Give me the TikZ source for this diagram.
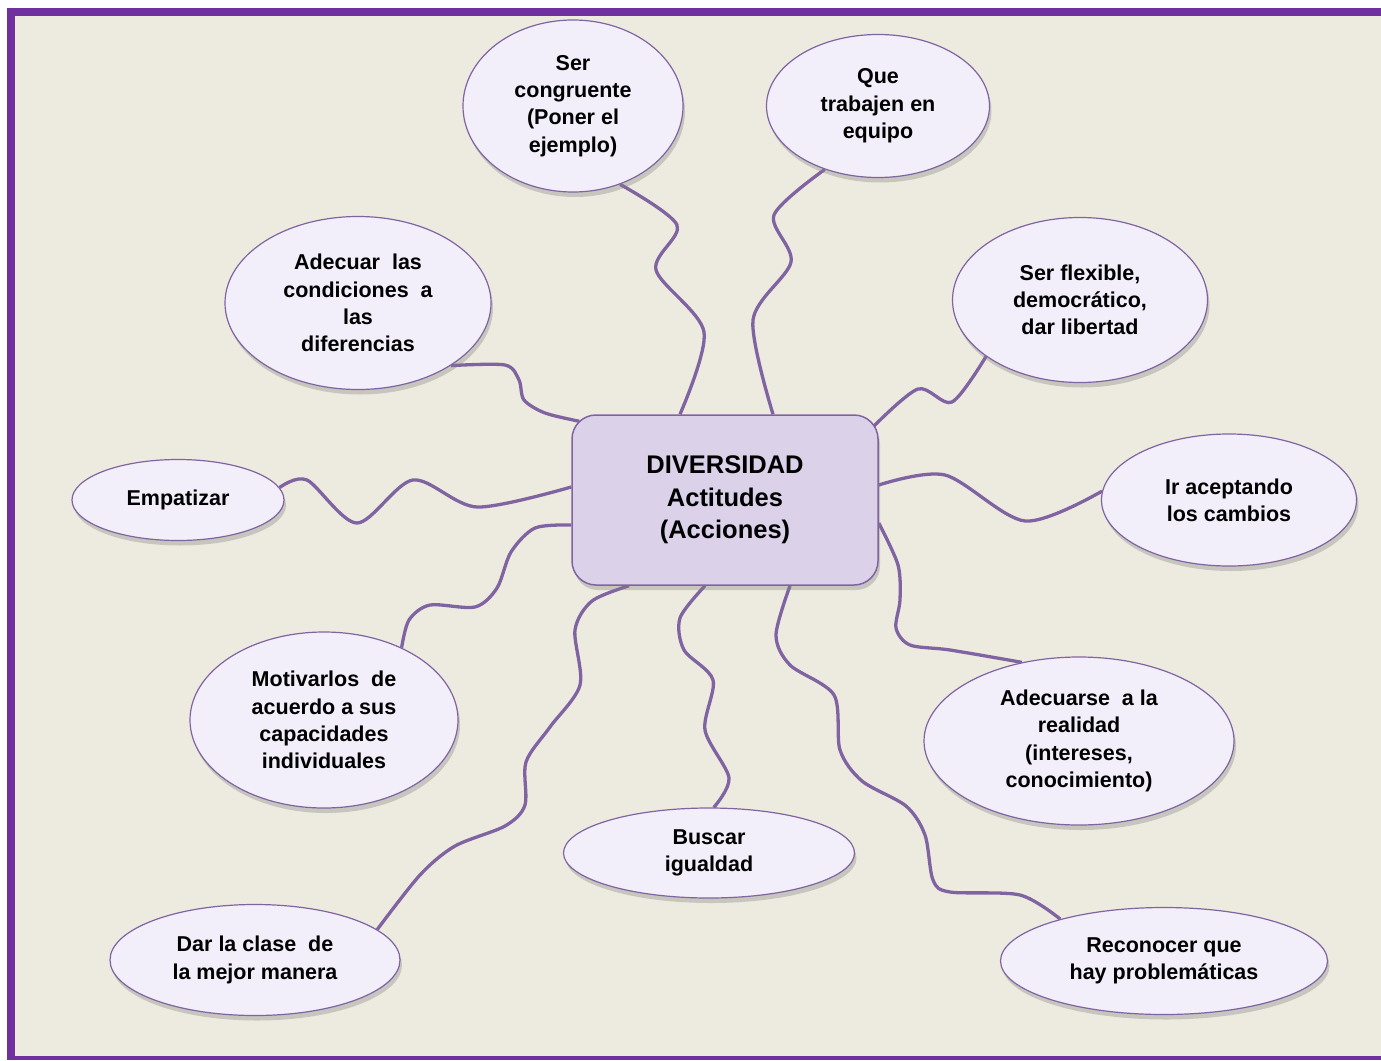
\documentclass[tikz,border=0pt]{standalone}
\usepackage{fontspec}
\setmainfont{Liberation Sans}
\usetikzlibrary{shapes.geometric,shadows}
\definecolor{framec}{RGB}{112,48,160}
\definecolor{paperc}{RGB}{237,235,224}
\definecolor{linkc}{RGB}{128,100,162}
\definecolor{ellfill}{RGB}{242,238,250}
\definecolor{hubfill}{RGB}{219,209,233}
\pgfdeclarelayer{background}
\pgfsetlayers{background,main}
\tikzset{
    leaf/.style={ellipse, draw=linkc, line width=1.2pt, fill=ellfill, inner sep=0pt, align=center,
            font=\bfseries\fontsize{21.5}{27.3}\selectfont,
            drop shadow={shadow xshift=2pt, shadow yshift=-5pt, opacity=0.35}},
    hub/.style={rectangle, rounded corners=24pt, draw=linkc, line width=1.5pt, fill=hubfill, inner sep=0pt,
            align=center, minimum width=306pt, minimum height=170pt,
            font=\bfseries\fontsize{25.5}{32.5}\selectfont,
            drop shadow={shadow xshift=2pt, shadow yshift=-5pt, opacity=0.35}},
    link/.style={draw=linkc, line width=3.3pt}
}
\begin{document}
\begin{tikzpicture}[x=1pt,y=-1pt]
    \useasboundingbox (0,0) rectangle (1381,1060);
    \node[hub] (hub) at (725,500) {DIVERSIDAD\\Actitudes\\(Acciones)};
    \node[leaf, minimum width=220pt, minimum height=172pt] (cong) at (573,106) {Ser\\congruente\\(Poner el\\ejemplo)};
    \node[leaf, minimum width=223pt, minimum height=143pt] (equipo) at (878,106) {Que\\trabajen en\\equipo};
    \node[leaf, minimum width=266pt, minimum height=173pt] (adecuar) at (358,303) {Adecuar\ \ las\\condiciones\ \ a\\las\\diferencias};
    \node[leaf, minimum width=255pt, minimum height=165pt] (flexible) at (1080,300) {Ser flexible,\\democrático,\\dar libertad};
    \node[leaf, minimum width=212pt, minimum height=81pt] (empat) at (178,500) {Empatizar};
    \node[leaf, minimum width=255pt, minimum height=132pt] (cambios) at (1229,500) {Ir aceptando\\los cambios};
    \node[leaf, minimum width=268pt, minimum height=176pt] (motiv) at (324,720) {Motivarlos\ \ de\\acuerdo a sus\\capacidades\\individuales};
    \node[leaf, minimum width=310pt, minimum height=168pt] (realidad) at (1079,741) {Adecuarse\ \ a la\\realidad\\(intereses,\\conocimiento)};
    \node[leaf, minimum width=291pt, minimum height=90pt] (igual) at (709,853) {Buscar\\igualdad};
    \node[leaf, minimum width=290pt, minimum height=111pt] (clase) at (255,960) {Dar la clase\ \ de\\la mejor manera};
    \node[leaf, minimum width=327pt, minimum height=107pt] (recon) at (1164,961) {Reconocer que\\hay problemáticas};
    \begin{pgfonlayer}{background}
        \fill[framec] (7,8) rectangle (1381,1060);
        \fill[paperc] (15,16) rectangle (1381,1056);
        \draw[link] plot[smooth] coordinates {([xshift=-45pt]hub.north) (704,332) (656,270) (677,225) (cong.-59)};
        \draw[link] plot[smooth] coordinates {([xshift=48pt]hub.north) (753,320) (791,262) (774,215) (equipo.230)};
        \draw[link] plot[smooth] coordinates {([xshift=8pt,yshift=-7pt]hub.north west) (545,413) (524,400) (519,380) (505,365) (adecuar.-34)};
        \draw[link] plot[smooth] coordinates {([yshift=13pt]hub.west) (477,507) (413,480) (357,523) (307,480) (empat.7)};
        \draw[link] plot[smooth] coordinates {([yshift=-25pt]hub.west) (535,528) (511,552) (497,588) (475,607) (430,605) (409,620) (motiv.43)};
        \draw[link] plot[smooth] coordinates {([xshift=-96pt]hub.south) (592,601) (575,630) (580,685) (550,727) (526,762) (525,805) (505,826) (455,846) (420,875) (clase.14)};
        \draw[link] plot[smooth] coordinates {([xshift=-20pt]hub.south) (680,618) (684,650) (713,680) (705,730) (729,778) (igual.84)};
        \draw[link] plot[smooth] coordinates {([xshift=65pt]hub.south) (776,635) (790,665) (834,695) (840,750) (862,781) (906,806) (925,835) (933,880) (950,892) (1020,895) (recon.158)};
        \draw[link] plot[smooth] coordinates {([yshift=-23pt]hub.east) (898,565) (900,600) (896,628) (910,645) (950,650) (realidad.126)};
        \draw[link] plot[smooth] coordinates {([yshift=15pt]hub.east) (945,475) (1025,521) (cambios.176)};
        \draw[link] plot[smooth] coordinates {([xshift=-5pt,yshift=-12pt]hub.north east) (918,389) (952,402) (flexible.211)};
    \end{pgfonlayer}
\end{tikzpicture}
\end{document}
